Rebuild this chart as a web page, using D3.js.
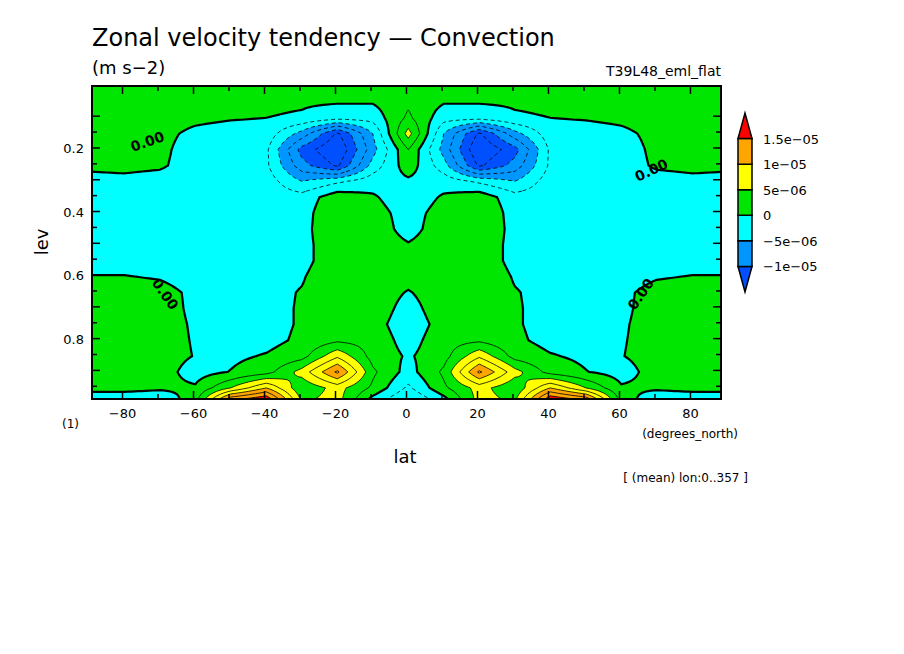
<!DOCTYPE html>
<html><head><meta charset="utf-8">
<script src="https://cdn.jsdelivr.net/npm/d3@7"></script>
<style>body{margin:0;background:#fff}text{font-family:"DejaVu Sans",sans-serif}</style>
</head><body><svg id="c" width="904" height="654"></svg>
<script>
// grid: lat -90..90 step 10, lev 0..1 step 0.05, values in 1e-6 m s-2
const lats = d3.range(-90, 91, 10);
const levs = d3.range(0, 1.0001, 0.05);
const half = [ // lat -90 .. 0 (mirrored for north)
  [1,1,1,1,1,1,1,1,1,1],
  [1,1,1,1,0.8,0.5,0.3,0.2,0.2,2],
  [1,1,1,0.5,0.2,0,-0.3,-1.5,-1.5,3],
  [1,1,0.6,-0.5,-1,-1,-6,-13,-5,6],
  [0.8,0.8,0.5,-1,-1,-2,-11,-15,-6,2.5],
  [0.3,0.5,0.3,-1,-1,-2,-9,-13,-4,1.5],
  [-0.5,-0.5,-0.8,-1,-1,-1.2,-5,-3,-1,-0.5],
  [-1,-1,-1,-1,-1,-1,-1.5,1.5,0.3,-1.5],
  [-1,-1,-1,-1,-1,-1,-1.2,2.5,1,-1],
  [-1,-1,-1,-1,-1,-1,-1,2.5,1.5,-1],
  [-1,-1,-1,-1,-1,-1,-1,2,1.5,0.2],
  [-1,-1,-1,-1,-1,-1,-1,2,1.5,1],
  [0.1,0.1,-0.2,-1,-1,-1,-0.3,2.5,1.5,1],
  [1,1,0.8,-0.5,-1,-1,0.2,2,1.5,-0.2],
  [1,1,1,-0.5,-1,-1,0.3,1.5,1.5,-1],
  [1,1,1,-0.3,-1,-1,0.3,1.5,1,-1.5],
  [1,1,1,-0.2,-1,-0.8,0.5,2,1.5,-1],
  [1,1,1,-0.1,-0.5,0.2,1.5,7,1.5,-0.3],
  [1,1,1,-1,0.1,1.5,6,13,3,-1],
  [1,1,0.5,0.3,5,10,3,6,2,-3],
  [-3,-3,-3,2,18,20,5,6,-2,-6]
];
const grid = half.map(r => r.concat(r.slice(0, 9).reverse()));

const colors = ["#0050ff","#0096ff","#00ffff","#00e600","#ffff00","#ffa500","#ff0000"];
const thresholds = [-10,-5,0,5,10,15];

const svg = d3.select("#c");
const X0 = 92, X1 = 721, Y0 = 86, Y1 = 399;
const x = d3.scaleLinear().domain([-88.6, 88.6]).range([X0, X1]);
const y = d3.scaleLinear().domain([0.005, 0.99]).range([Y0, Y1]);

// resample onto fine grid (bilinear) for smoother contours
const NX = 181, NY = 101;
const fine = new Float64Array(NX * NY);
for (let j = 0; j < NY; j++) {
  const fy = j / (NY - 1) * (levs.length - 1), j0 = Math.min(Math.floor(fy), levs.length - 2), ty = fy - j0;
  for (let i = 0; i < NX; i++) {
    const fx = i / (NX - 1) * (lats.length - 1), i0 = Math.min(Math.floor(fx), lats.length - 2), tx = fx - i0;
    fine[j * NX + i] = (grid[j0][i0] * (1 - tx) + grid[j0][i0 + 1] * tx) * (1 - ty)
      + (grid[j0 + 1][i0] * (1 - tx) + grid[j0 + 1][i0 + 1] * tx) * ty;
  }
}
const gx = i => x(-90 + i / (NX - 1) * 180);
const gy = j => y(j / (NY - 1));
const path = d3.geoPath(d3.geoTransform({point(px, py) { this.stream.point(gx(px), gy(py)); }}));

svg.append("clipPath").attr("id", "cp").append("rect")
  .attr("x", X0).attr("y", Y0).attr("width", X1 - X0).attr("height", Y1 - Y0);
const g = svg.append("g").attr("clip-path", "url(#cp)");
g.append("rect").attr("x", X0).attr("y", Y0).attr("width", X1 - X0).attr("height", Y1 - Y0).attr("fill", colors[0]);
const cont = d3.contours().size([NX, NY]).smooth(true);
thresholds.forEach((t, k) => {
  g.append("path").attr("d", path(cont.contour(fine, t))).attr("fill", colors[k + 1]);
});
// contour lines
d3.range(-15, 22.6, 2.5).forEach(t => {
  g.append("path").attr("d", path(cont.contour(fine, t)))
    .attr("fill", "none").attr("stroke", "#000")
    .attr("stroke-width", t === 0 ? 2.2 : 0.8)
    .attr("stroke-dasharray", t < 0 ? "4,3" : null);
});
// zero labels
const zl = [[-73, 0.18, -20], [69, 0.27, -25], [-68, 0.66, 55], [66, 0.66, -55]];
zl.forEach(([la, lv, r]) => {
  svg.append("text").attr("transform", `translate(${x(la)},${y(lv)}) rotate(${r})`)
    .attr("text-anchor", "middle").attr("dy", "0.35em").attr("font-size", 14).attr("font-weight", "bold").text("0.00");
});

svg.append("rect").attr("x", X0).attr("y", Y0).attr("width", X1 - X0).attr("height", Y1 - Y0)
  .attr("fill", "none").attr("stroke", "#000").attr("stroke-width", 2);

// ticks (inward)
const xt = d3.range(-80, 81, 10), yt = d3.range(0.1, 0.951, 0.05);
xt.forEach(v => {
  const L = v % 20 === 0 ? 8 : 5;
  svg.append("line").attr("x1", x(v)).attr("x2", x(v)).attr("y1", Y1).attr("y2", Y1 - L).attr("stroke", "#000").attr("stroke-width", 1.5);
  svg.append("line").attr("x1", x(v)).attr("x2", x(v)).attr("y1", Y0).attr("y2", Y0 + L).attr("stroke", "#000").attr("stroke-width", 1.5);
});
yt.forEach(v => {
  const L = Math.abs(v * 10 - Math.round(v * 10)) < 0.01 ? 8 : 5;
  svg.append("line").attr("x1", X0).attr("x2", X0 + L).attr("y1", y(v)).attr("y2", y(v)).attr("stroke", "#000").attr("stroke-width", 1.5);
  svg.append("line").attr("x1", X1).attr("x2", X1 - L).attr("y1", y(v)).attr("y2", y(v)).attr("stroke", "#000").attr("stroke-width", 1.5);
});
const xLab = [-80,-60,-40,-20,0,20,40,60,80], yLab = [0.2,0.4,0.6,0.8];
xLab.forEach(v => svg.append("text").attr("x", x(v)).attr("y", 418).attr("text-anchor", "middle").attr("font-size", 13).text(String(v).replace("-", "\u2212")));
yLab.forEach(v => svg.append("text").attr("x", 84).attr("y", y(v) + 5).attr("text-anchor", "end").attr("font-size", 13).text(v));

svg.append("text").attr("x", 92).attr("y", 46).attr("font-size", 24).text("Zonal velocity tendency \u2014 Convection");
svg.append("text").attr("x", 92).attr("y", 74).attr("font-size", 18).text("(m s\u22122)");
svg.append("text").attr("x", 721).attr("y", 76).attr("text-anchor", "end").attr("font-size", 14).text("T39L48_eml_flat");
svg.append("text").attr("transform", "translate(48,242) rotate(-90)").attr("text-anchor", "middle").attr("font-size", 18).text("lev");
svg.append("text").attr("x", 405).attr("y", 463).attr("text-anchor", "middle").attr("font-size", 18).text("lat");
svg.append("text").attr("x", 62).attr("y", 428).attr("font-size", 12).text("(1)");
svg.append("text").attr("x", 738).attr("y", 438).attr("text-anchor", "end").attr("font-size", 12).text("(degrees_north)");
svg.append("text").attr("x", 748).attr("y", 482).attr("text-anchor", "end").attr("font-size", 12).text("[ (mean) lon:0..357 ]");

// colorbar
const cbLabels = ["-1e-05","-5e-06","0","5e-06","1e-05","1.5e-05"];
const cx0 = 738, cw = 14;
const cy = d3.scaleLinear().domain([0, 7]).range([292, 113]);
colors.forEach((c, k) => {
  let d;
  if (k === 0) d = `M${cx0},${cy(1)}L${cx0 + cw},${cy(1)}L${cx0 + cw / 2},${cy(0)}Z`;
  else if (k === 6) d = `M${cx0},${cy(6)}L${cx0 + cw},${cy(6)}L${cx0 + cw / 2},${cy(7)}Z`;
  else d = `M${cx0},${cy(k + 1)}H${cx0 + cw}V${cy(k)}H${cx0}Z`;
  svg.append("path").attr("d", d).attr("fill", c).attr("stroke", "#000").attr("stroke-width", 1.5);
});
cbLabels.forEach((t, k) => svg.append("text").attr("x", 763).attr("y", cy(k + 1) + 5).attr("font-size", 13).text(t.replace(/-/g, "\u2212")));
</script></body></html>
